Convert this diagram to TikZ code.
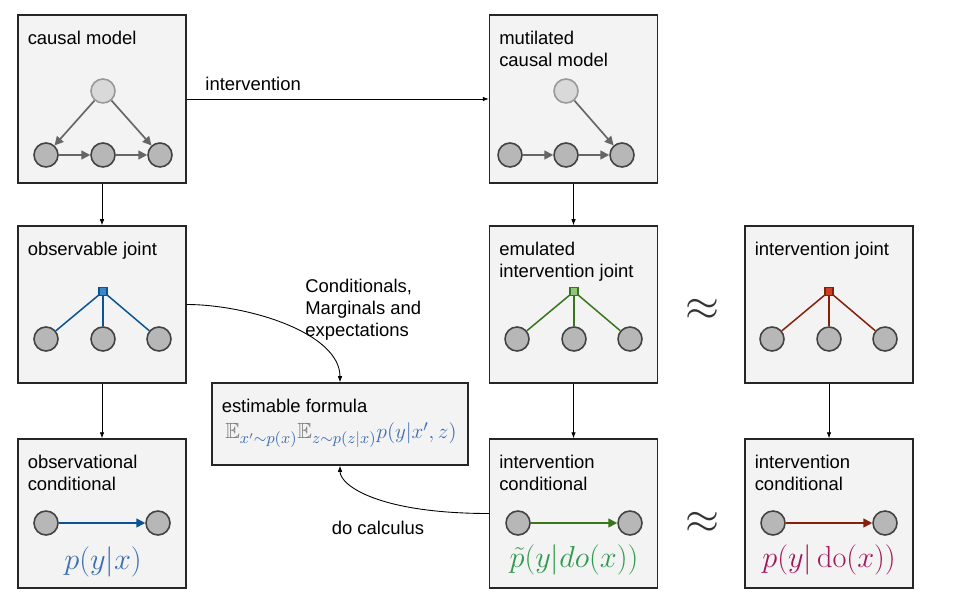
\documentclass[tikz,border=0pt]{standalone}
\usepackage{amsmath,amssymb}
\usepackage[no-math]{fontspec}
\setmainfont{Liberation Sans}
\usetikzlibrary{arrows.meta,positioning,calc}

\definecolor{boxFill}{HTML}{F3F3F3}
\definecolor{varFill}{HTML}{B7B7B7}
\definecolor{varDraw}{HTML}{434343}
\definecolor{latentFill}{HTML}{D9D9D9}
\definecolor{latentDraw}{HTML}{999999}
\definecolor{edgeGray}{HTML}{666666}
\definecolor{obsBlue}{HTML}{3D85C6}
\definecolor{obsBlueDark}{HTML}{0B5394}
\definecolor{emuGreen}{HTML}{93C47D}
\definecolor{emuGreenDark}{HTML}{38761D}
\definecolor{intRed}{HTML}{CC4125}
\definecolor{intRedDark}{HTML}{85200C}
\definecolor{obsText}{HTML}{3B6DB3}
\definecolor{emuText}{HTML}{2E9A4E}
\definecolor{intText}{HTML}{A3175A}
\definecolor{eGray}{HTML}{7A7A7A}

\begin{document}
\begin{tikzpicture}[
    x=0.02cm, y=-0.02cm,
    >=Latex,
    % Styles
    box/.style={draw=black!85, fill=boxFill, line width=0.7pt, inner sep=0pt, minimum width=3.36cm},
    boxLabel/.style={anchor=north west, inner sep=0pt, align=left, font=\fontsize{10.5}{12.5}\selectfont},
    var/.style={circle, draw=varDraw, fill=varFill, line width=0.9pt, minimum size=0.48cm, inner sep=0pt},
    latent/.style={var, draw=latentDraw, fill=latentFill},
    factor/.style={rectangle, minimum size=0.16cm, inner sep=0pt, line width=0.6pt},
    causalEdge/.style={-{Triangle[length=5pt,width=5pt]}, line width=0.95pt},
    flow/.style={-{Latex[length=3.5pt,width=2.6pt]}, line width=0.5pt, black},
    formula/.style={inner sep=0pt, font=\fontsize{16}{19}\selectfont}
  ]

  \useasboundingbox (0,0) rectangle (955,597);

  % --- 1. DE KADERS ---
  \node[box, minimum height=3.36cm] (cm) at (102,99) {};
  \node[box, minimum height=3.36cm] (mut) at (573.5,99) {};
  \node[box, minimum height=3.14cm] (oj) at (102,304.5) {};
  \node[box, minimum height=3.14cm] (ej) at (573.5,304.5) {};
  \node[box, minimum height=3.14cm] (ij) at (829,304.5) {};
  \node[box, minimum height=2.98cm] (oc) at (102,513.5) {};
  \node[box, minimum height=2.98cm] (ec) at (573.5,513.5) {};
  \node[box, minimum height=2.98cm] (ic) at (829,513.5) {};
  \node[box, minimum width=5.12cm, minimum height=1.64cm] (ef) at (340,424) {};

  % Titels linksboven in elk kader
  \foreach \b/\t in {cm/causal model, mut/{mutilated\\causal model}, oj/observable joint,
      ej/{emulated\\intervention joint}, ij/intervention joint, oc/{observational\\conditional},
      ec/{intervention\\conditional}, ic/{intervention\\conditional}, ef/estimable formula} {
      \node[boxLabel] (\b-label) at ([shift={(10,16)}]\b.north west) {\t};
    }

  % --- 2. CAUSALE MODELLEN ---
  \node[latent] (cmU) at (103,91) {};
  \foreach \n/\x in {cmA/46, cmB/103, cmC/160} {
      \node[var] (\n) at (\x,155) {};
    }
  \draw[causalEdge, edgeGray] (cmU) -- (cmA);
  \draw[causalEdge, edgeGray] (cmU) -- (cmC);
  \draw[causalEdge, edgeGray] (cmA) -- (cmB);
  \draw[causalEdge, edgeGray] (cmB) -- (cmC);

  \node[latent] (mutU) at (566,91) {};
  \foreach \n/\x in {mutA/510, mutB/566, mutC/622} {
      \node[var] (\n) at (\x,155) {};
    }
  \draw[causalEdge, edgeGray] (mutU) -- (mutC);
  \draw[causalEdge, edgeGray] (mutA) -- (mutB);
  \draw[causalEdge, edgeGray] (mutB) -- (mutC);

  % --- 3. GEZAMENLIJKE VERDELINGEN ---
  \foreach \p/\cx/\col in {oj/103/obsBlue, ej/574/emuGreen, ij/829/intRed} {
      \node[factor, draw=\col Dark, fill=\col] (\p F) at (\cx,291.5) {};
      \foreach \i/\dx in {1/-57, 2/0, 3/56} {
          \pgfmathsetmacro{\vx}{\cx+\dx}
          \node[var] (\p\i) at (\vx,339) {};
          \draw[\col Dark, line width=0.85pt] (\p F) -- (\p\i);
        }
    }

  % --- 4. CONDITIONELE VERDELINGEN ---
  \foreach \p/\cx/\col in {oc/102/obsBlue, ec/574/emuGreen, ic/829/intRed} {
      \pgfmathsetmacro{\lx}{\cx-56}
      \pgfmathsetmacro{\rx}{\cx+56}
      \node[var] (\p X) at (\lx,523) {};
      \node[var] (\p Y) at (\rx,523) {};
      \draw[causalEdge, \col Dark] (\p X) -- (\p Y);
    }
  \node[formula, text=obsText] (ocF) at (103,562) {$p(y|x)$};
  \node[formula, text=emuText] (ecF) at (574,560) {$\tilde{p}(y|do(x))$};
  \node[formula, text=intText] (icF) at (829,560) {$p(y|\operatorname{do}(x))$};

  \node[inner sep=0pt, anchor=west, text=obsText, font=\fontsize{12.5}{15}\selectfont] (efF) at (225,435)
    {${\color{eGray}\mathbb{E}}_{x'\sim p(x)}{\color{eGray}\mathbb{E}}_{z\sim p(z|x)}p(y|x',z)$};

  % --- 5. BENADERINGSTEKENS ---
  \node[inner sep=0pt, text=black!80, font=\fontsize{29}{29}\selectfont] (approxTop) at (702,310) {$\approx$};
  \node[inner sep=0pt, text=black!80, font=\fontsize{29}{29}\selectfont] (approxBot) at (702,523) {$\approx$};

  % --- 6. VERBINDINGEN ---
  \draw[flow] (cm) -- (mut)
    node[pos=0.22, above=4.5pt, inner sep=0pt, font=\fontsize{10.5}{12.5}\selectfont] (intLabel) {intervention};
  \draw[flow] (cm) -- (oj);
  \draw[flow] (oj) -- (oc);
  \draw[flow] (mut) -- (ej);
  \draw[flow] (ej) -- (ec);
  \draw[flow] (ij) -- (ic);
  \draw[flow] (oj.east) .. controls +(60,0) and +(0,-50) .. (ef.north);
  \draw[flow] (ec.west) .. controls +(-110,0) and +(0,20) .. (ef.south);

  \node[boxLabel] (margLabel) at (305,279) {Conditionals,\\Marginals and\\expectations};
  \node[inner sep=0pt, font=\fontsize{10.5}{12.5}\selectfont] (doLabel) at (378,528) {do calculus};

\end{tikzpicture}
\end{document}
